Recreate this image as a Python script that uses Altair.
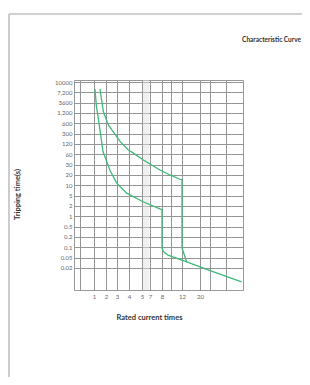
import math
import altair as alt
import numpy as np
import pandas as pd

# ---------------- data ----------------
lower_x = [1.08, 1.2, 1.36, 1.75, 2.36, 2.97, 3.81, 5.25, 7.83, 8, 8, 8.29, 9.33, 14.1, 25.9, 39.2]
lower_y = [8000, 2500, 840, 72, 24, 11.6, 5.9, 2.9, 1.64, 1.55, 0.095, 0.075, 0.059, 0.034, 0.0158, 0.0083]

upper_x = [1.5, 1.78, 2.21, 3.27, 3.94, 4.31, 5.33, 7.83, 9.78, 11.64, 12, 12, 14.1]
upper_y = [8000, 1400, 540, 147, 80, 66, 41, 24.3, 20, 15, 14.5, 0.095, 0.034]

y_ticks = [10000, 7200, 3600, 1200, 600, 300, 120, 60, 30, 20, 10, 5, 2, 1, 0.5, 0.2, 0.1, 0.05, 0.02]
y_tick_labels = ["10000", "7,200", "3600", "1,200", "600", "300", "120", "60", "30", "20", "10",
                 "5", "2", "1", "0.5", "0.2", "0.1", "0.05", "0.02"]
x_labels = [1, 2, 3, 4, 5, 7, 8, 12, 20]
x_grid = [0.5, 1, 2, 3, 4, 5, 7, 8, 10, 12, 20, 25, 30]
x_light = [5.5, 6, 6.5]

# ---------------- the drawing's own (uneven) grid ----------------
W, H = 169, 210
x_breaks = [0, 0.5, 1, 2, 3, 4, 5, 7, 8, 10, 12, 20, 25, 30, 40]
x_units = [0, 6, 20, 32, 43, 55, 68, 76, 88, 97, 108, 126, 136, 152, W]
row = 10.33
y_breaks = [12000] + y_ticks + [0.005]
y_units = [0] + [2 + row * i for i in range(len(y_ticks))] + [H]
# ascending order in log10 for interpolation
y_log = [math.log10(v) for v in y_breaks][::-1]
y_un = y_units[::-1]


def piecewise(field, bx, by):
    expr = str(by[-1])
    for i in reversed(range(len(bx) - 1)):
        slope = (by[i + 1] - by[i]) / (bx[i + 1] - bx[i])
        seg = f"({by[i]} + ({field} - ({bx[i]})) * ({slope}))"
        expr = f"({field} < {bx[i + 1]} ? {seg} : {expr})"
    return expr


x_expr_pos = piecewise("datum.x", x_breaks, x_units)
y_expr_pos = piecewise("(log(datum.y) / LN10)", y_log, y_un)

x_grid_u = [round(float(np.interp(v, x_breaks, x_units)), 3) for v in x_grid]
x_light_u = [round(float(np.interp(v, x_breaks, x_units)), 3) for v in x_light]
y_tick_u = [round(float(np.interp(math.log10(v), y_log, y_un)), 3) for v in y_ticks]

x_lab = ""
for v, u in zip(x_grid, x_grid_u):
    if v in x_labels:
        x_lab += f"abs(datum.value - {u}) < 0.01 ? '{v}' : "
x_lab += "''"
y_lab = ""
for lab, u in zip(y_tick_labels, y_tick_u):
    y_lab += f"abs(datum.value - {u}) < 0.01 ? '{lab}' : "
y_lab += "''"

rows = []
for name, xv, yv in (("lower", lower_x, lower_y), ("upper", upper_x, upper_y)):
    for i, (a, b) in enumerate(zip(xv, yv)):
        rows.append({"series": name, "x": a, "y": b, "order": i})
df = pd.DataFrame(rows)

FONT = "Lato"
xs = alt.Scale(domain=[0, W], nice=False, zero=False)
ys = alt.Scale(domain=[H, 0], nice=False, zero=False)

x_axis = alt.Axis(values=x_grid_u, labelExpr=x_lab, grid=True, gridColor="#959595", gridWidth=1,
                  ticks=False, domain=False, labelFontSize=6, labelColor="#666", labelFont=FONT,
                  labelPadding=3, labelOverlap=False, title="Rated current times", titleFont=FONT,
                  titleFontSize=7.5, titleFontWeight="bold", titleColor="#333", titleX=75, titleY=27,
                  titleBaseline="middle", titleAlign="center")
y_axis = alt.Axis(values=y_tick_u, labelExpr=y_lab, grid=True, gridColor="#959595", gridWidth=1,
                  ticks=False, domain=False, labelFontSize=6, labelColor="#666", labelFont=FONT,
                  labelPadding=2, labelOverlap=False, title="Tripping time(s)", titleFont=FONT,
                  titleFontSize=7.5, titleFontWeight="bold", titleColor="#333", titleX=-57, titleY=114,
                  titleBaseline="middle", titleAlign="center")

one = pd.DataFrame({"a": [0]})

light = alt.Chart(pd.DataFrame({"xu": x_light_u})).mark_rule(color="#e0e0e0", strokeWidth=1).encode(
    x=alt.X("xu:Q", scale=xs, axis=x_axis))

curves = alt.Chart(df).transform_calculate(
    xu=x_expr_pos, yu=y_expr_pos
).mark_line(color="#3dba78", strokeWidth=1.3).encode(
    x=alt.X("xu:Q", scale=xs, axis=x_axis),
    y=alt.Y("yu:Q", scale=ys, axis=y_axis),
    detail="series:N",
    order="order:Q",
)

frame_v = alt.Chart(one).mark_rule(color="#c0c0c0", strokeWidth=1.6).encode(
    x=alt.value(-65), y=alt.value(-66), y2=alt.value(300))
frame_h = alt.Chart(one).mark_rule(color="#c0c0c0", strokeWidth=1.6).encode(
    x=alt.value(-65), x2=alt.value(240), y=alt.value(-66))

title = alt.Chart(one).mark_text(text="Characteristic Curve", align="right", baseline="middle",
                                 fontSize=6.5, font=FONT, fontWeight="bold", color="#333").encode(
    x=alt.value(227), y=alt.value(-40))

chart = alt.layer(light, curves, frame_v, frame_h, title).properties(
    width=W, height=H,
    autosize=alt.AutoSizeParams(type="none"),
    padding={"left": 66, "top": 72, "right": 59, "bottom": 87},
    background="white",
).configure_view(stroke="#999", strokeWidth=1)

chart.save("out.html", embed_options={"renderer": "svg", "actions": False})
